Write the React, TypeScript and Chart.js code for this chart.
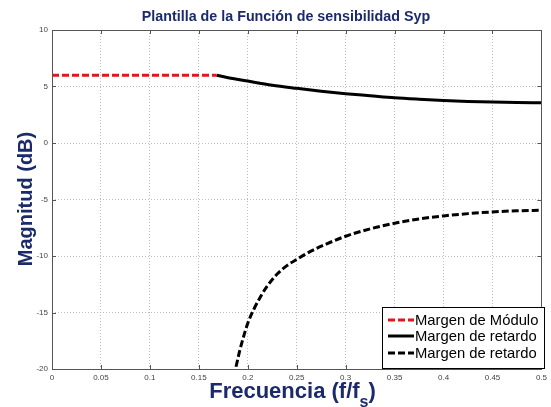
import React, { useEffect, useRef } from "react";
import { Chart, registerables } from "chart.js";
Chart.register(...registerables);

const FONT = "'Liberation Sans', Arial, sans-serif";
const NAVY = "#1b2a6b";

const titleText = "Plantilla de la Función de sensibilidad Syp";
const yTitle = "Magnitud (dB)";
const xTitleMain = "Frecuencia (f/f";
const xTitleSub = "s";
const xTitleEnd = ")";
const legendLabels = ["Margen de Módulo", "Margen de retardo", "Margen de retardo"];

const moduloX = [0, 0.168];
const moduloY = [6, 6];

const retSupX = [0.168, 0.18, 0.2, 0.225, 0.25, 0.275, 0.3, 0.325, 0.35, 0.375, 0.4, 0.425, 0.45, 0.475, 0.5];
const retSupY = [6.0, 5.78, 5.48, 5.12, 4.84, 4.58, 4.36, 4.18, 4.0, 3.87, 3.76, 3.68, 3.62, 3.58, 3.56];

const retInfX = [0.188, 0.192, 0.196, 0.2, 0.206, 0.213, 0.22, 0.23, 0.24, 0.25, 0.265, 0.28, 0.3, 0.325, 0.35, 0.375, 0.4, 0.425, 0.45, 0.475, 0.5];
const retInfY = [-19.8, -18.3, -17.05, -15.95, -14.75, -13.6, -12.65, -11.6, -10.85, -10.3, -9.55, -8.95, -8.25, -7.6, -7.1, -6.72, -6.45, -6.25, -6.1, -6.0, -5.95];

const xMin = 0, xMax = 0.5, xStep = 0.05;
const yMin = -20, yMax = 10, yStep = 5;

const toPts = (xs: number[], ys: number[]) => xs.map((x, i) => ({ x, y: ys[i] }));

const decorPlugin = {
  id: "decor",
  afterDraw(chart: any) {
    const ctx = chart.ctx as CanvasRenderingContext2D;
    const ca = chart.chartArea;
    const xs = chart.scales.x;
    const ys = chart.scales.y;
    ctx.save();
    // box
    ctx.strokeStyle = "#555";
    ctx.lineWidth = 1;
    ctx.setLineDash([]);
    ctx.strokeRect(Math.round(ca.left) + 0.5, Math.round(ca.top) + 0.5, Math.round(ca.right - ca.left), Math.round(ca.bottom - ca.top));
    // inward ticks
    const tl = 4;
    ctx.beginPath();
    for (let v = xMin; v <= xMax + 1e-9; v += xStep) {
      const px = Math.round(xs.getPixelForValue(v)) + 0.5;
      ctx.moveTo(px, ca.bottom); ctx.lineTo(px, ca.bottom - tl);
      ctx.moveTo(px, ca.top); ctx.lineTo(px, ca.top + tl);
    }
    for (let v = yMin; v <= yMax + 1e-9; v += yStep) {
      const py = Math.round(ys.getPixelForValue(v)) + 0.5;
      ctx.moveTo(ca.left, py); ctx.lineTo(ca.left + tl, py);
      ctx.moveTo(ca.right, py); ctx.lineTo(ca.right - tl, py);
    }
    ctx.stroke();

    // title
    ctx.fillStyle = NAVY;
    ctx.font = `bold 14.3px ${FONT}`;
    ctx.textAlign = "center";
    ctx.textBaseline = "middle";
    ctx.fillText(titleText, 286, 17);

    // y title
    ctx.save();
    ctx.translate(26, 199);
    ctx.rotate(-Math.PI / 2);
    ctx.font = `bold 20px ${FONT}`;
    ctx.fillText(yTitle, 0, 0);
    ctx.restore();

    // x title with subscript
    ctx.textAlign = "left";
    ctx.textBaseline = "alphabetic";
    const big = `bold 22px ${FONT}`;
    const small = `bold 16px ${FONT}`;
    ctx.font = big;
    const w1 = ctx.measureText(xTitleMain).width;
    ctx.font = small;
    const w2 = ctx.measureText(xTitleSub).width;
    ctx.font = big;
    const w3 = ctx.measureText(xTitleEnd).width;
    const total = w1 + w2 + w3;
    let sx = 292.5 - total / 2;
    const base = 398;
    ctx.fillText(xTitleMain, sx, base);
    sx += w1;
    ctx.font = small;
    ctx.fillText(xTitleSub, sx, base + 9);
    sx += w2;
    ctx.font = big;
    ctx.fillText(xTitleEnd, sx, base);

    // legend
    const lx = 382, ly = 307, lw = 162, lh = 61;
    ctx.fillStyle = "#fff";
    ctx.fillRect(lx, ly, lw, lh);
    ctx.strokeStyle = "#000";
    ctx.lineWidth = 1;
    ctx.strokeRect(lx + 0.5, ly + 0.5, lw, lh);
    const styles = [
      { c: "#e3141b", d: [7, 3] },
      { c: "#000", d: [] as number[] },
      { c: "#000", d: [7, 3] },
    ];
    const rows = [320, 336, 353];
    ctx.font = `14.8px ${FONT}`;
    ctx.textBaseline = "middle";
    for (let i = 0; i < 3; i++) {
      ctx.strokeStyle = styles[i].c;
      ctx.lineWidth = 3;
      ctx.setLineDash(styles[i].d);
      ctx.beginPath();
      ctx.moveTo(388, rows[i]);
      ctx.lineTo(414, rows[i]);
      ctx.stroke();
      ctx.setLineDash([]);
      ctx.fillStyle = "#000";
      ctx.fillText(legendLabels[i], 415, rows[i] + 1);
    }
    ctx.restore();
  },
};

export default function App() {
  const ref = useRef<HTMLCanvasElement | null>(null);
  useEffect(() => {
    if (!ref.current) return;
    const chart = new Chart(ref.current, {
      type: "line",
      data: {
        datasets: [
          {
            label: legendLabels[0],
            data: toPts(moduloX, moduloY),
            borderColor: "#e3141b",
            borderWidth: 3,
            borderDash: [7, 3],
            pointRadius: 0,
            fill: false,
          },
          {
            label: legendLabels[1],
            data: toPts(retSupX, retSupY),
            borderColor: "#000",
            borderWidth: 3,
            pointRadius: 0,
            cubicInterpolationMode: "monotone",
            fill: false,
          },
          {
            label: legendLabels[2],
            data: toPts(retInfX, retInfY),
            borderColor: "#000",
            borderWidth: 3,
            borderDash: [7, 3],
            pointRadius: 0,
            cubicInterpolationMode: "monotone",
            fill: false,
          },
        ],
      },
      options: {
        animation: false,
        responsive: false,
        devicePixelRatio: 1,
        layout: { padding: { top: 30, right: 6, left: 0, bottom: 0 } },
        plugins: { legend: { display: false }, title: { display: false }, tooltip: { enabled: false } },
        scales: {
          x: {
            type: "linear",
            min: xMin,
            max: xMax,
            afterFit: (s: any) => { s.height = 38; },
            afterBuildTicks: (s: any) => {
              const t = [];
              for (let i = 0; i <= Math.round((xMax - xMin) / xStep); i++) t.push({ value: +(xMin + i * xStep).toFixed(2) });
              s.ticks = t;
            },
            ticks: {
              autoSkip: false,
              maxRotation: 0,
              padding: 4,
              color: "#444",
              font: { size: 8, family: FONT },
              callback: (v: any) => String(+(+v).toFixed(2)),
            },
            grid: { color: "#bdbdbd", drawTicks: false, lineWidth: 1 },
            border: { display: false, dash: [1, 2] },
          },
          y: {
            type: "linear",
            min: yMin,
            max: yMax,
            afterFit: (s: any) => { s.width = 52; },
            ticks: {
              stepSize: yStep,
              padding: 4,
              color: "#444",
              font: { size: 8, family: FONT },
            },
            grid: { color: "#bdbdbd", drawTicks: false, lineWidth: 1 },
            border: { display: false, dash: [1, 2] },
          },
        },
      },
      plugins: [decorPlugin],
    } as any);
    return () => chart.destroy();
  }, []);
  return (
    <div style={{ position: "absolute", left: 0, top: 0, width: 551, height: 407, background: "#fff" }}>
      <canvas ref={ref} width={551} height={407} />
    </div>
  );
}
